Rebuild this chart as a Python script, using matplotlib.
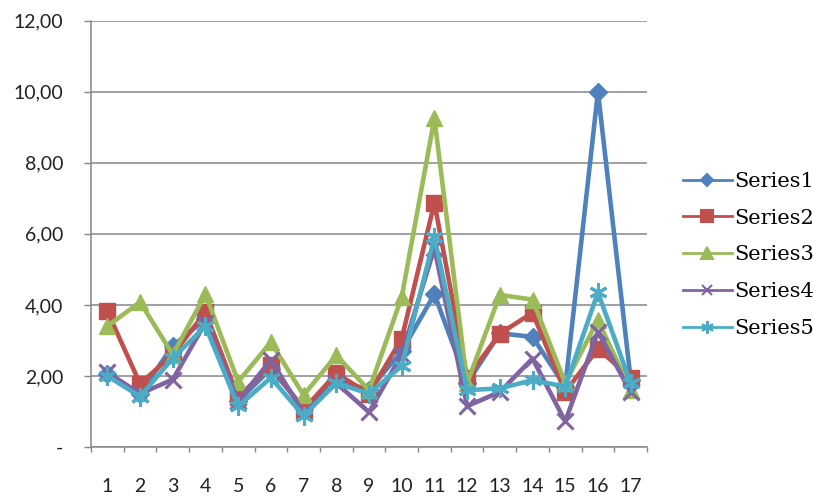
import matplotlib.pyplot as plt
from matplotlib.lines import Line2D

# values
categories = list(range(1, 18))
series1 = [2.05, 1.50, 2.85, 3.60, 1.30, 2.20, 1.10, 1.90, 1.60, 2.70, 4.30, 1.80, 3.20, 3.10, 1.70, 10.00, 1.90]
series2 = [3.82, 1.78, 2.60, 3.80, 1.40, 2.30, 1.05, 2.07, 1.50, 3.05, 6.87, 1.95, 3.19, 3.78, 1.55, 2.77, 1.95]
series3 = [3.40, 4.08, 2.60, 4.30, 1.84, 2.95, 1.46, 2.58, 1.60, 4.22, 9.25, 1.80, 4.28, 4.15, 1.80, 3.57, 1.60]
series4 = [2.10, 1.50, 1.90, 3.50, 1.30, 2.45, 0.95, 1.80, 0.98, 2.60, 5.60, 1.15, 1.55, 2.49, 0.72, 3.24, 1.55]
series5 = [2.00, 1.42, 2.50, 3.40, 1.15, 1.95, 0.88, 1.80, 1.50, 2.28, 5.90, 1.60, 1.65, 1.88, 1.70, 4.35, 1.80]
labels = ['Series1', 'Series2', 'Series3', 'Series4', 'Series5']
y_ticks = [0, 2, 4, 6, 8, 10, 12]

colors = ['#4F81BD', '#C0504D', '#9BBB59', '#8064A2', '#4BACC6']
markers = ['D', 's', '^', 'x', (6, 2, 0)]
msizes = [9, 11.5, 12, 11, 13]
grid_col = '#868686'

fig = plt.figure(figsize=(8.13, 4.97), dpi=100)
ax = fig.add_axes([91 / 813, 50 / 497, 556 / 813, 426.3 / 497])

all_series = [series1, series2, series3, series4, series5]
for vals, c, m, ms, lab in zip(all_series, colors, markers, msizes, labels):
    ax.plot(categories, vals, color=c, lw=3.3, marker=m, markersize=ms,
            markeredgewidth=2.2 if m in ('x', (6, 2, 0)) else 1,
            markerfacecolor=c, markeredgecolor=c, label=lab, solid_joinstyle='round')

ax.set_xlim(0.5, 17.5)
ax.set_ylim(0, 12)
ax.set_yticks(y_ticks)
ax.set_yticklabels(['-' if v == 0 else f'{v:.2f}'.replace('.', ',') for v in y_ticks],
                   fontsize=14, family='Lato', color='#222222')
ax.set_xticks(categories)
ax.set_xticklabels([str(c) for c in categories], fontsize=14, family='Lato', color='#222222')
ax.set_xticks([c + 0.5 for c in [0] + categories], minor=True)
ax.tick_params(axis='x', which='major', length=0, pad=22)
ax.tick_params(axis='x', which='minor', length=3.6, color=grid_col, width=1)
ax.tick_params(axis='y', which='major', length=5, color=grid_col, width=1, pad=15)

ax.yaxis.grid(True, color=grid_col, lw=1.1)
ax.set_axisbelow(True)
for s in ['top', 'right']:
    ax.spines[s].set_visible(False)
for s in ['left', 'bottom']:
    ax.spines[s].set_color(grid_col)
    ax.spines[s].set_linewidth(1.1)

handles = [Line2D([0], [0], color=c, lw=2, marker=m, markersize=ms * 0.7,
                  markeredgewidth=1.5, markerfacecolor=c, markeredgecolor=c)
           for c, m, ms in zip(colors, markers, msizes)]
fig.legend(handles, labels, loc='upper left', bbox_to_anchor=(683 / 813, 1 - 172 / 497),
           frameon=False, borderpad=0, borderaxespad=0, handlelength=2.35,
           handletextpad=0.12, labelspacing=0.85,
           prop={'family': 'DejaVu Serif', 'size': 15})

fig.savefig('out.png', dpi=100)
